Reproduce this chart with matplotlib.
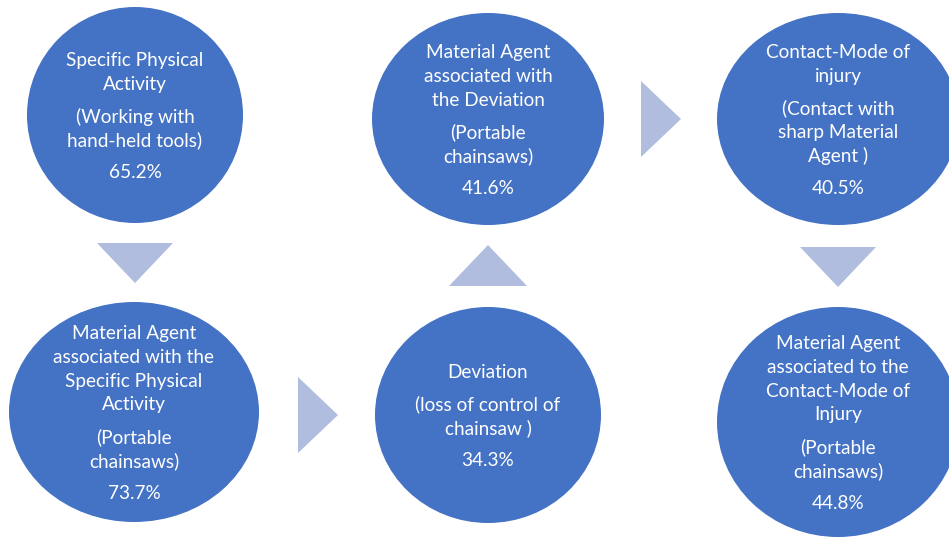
import matplotlib
matplotlib.use("Agg")
import matplotlib.pyplot as plt
from matplotlib.patches import Ellipse, Polygon

# ---- data ----
titles = [
    ["Specific Physical", "Activity"],
    ["Material Agent", "associated with the", "Specific Physical", "Activity"],
    ["Deviation"],
    ["Material Agent", "associated with", "the Deviation"],
    ["Contact-Mode of", "injury"],
    ["Material Agent", "associated to the", "Contact-Mode of", "Injury"],
]
details = [
    ["(Working with", "hand-held tools)"],
    ["(Portable", "chainsaws)"],
    ["(loss of control of", "chainsaw )"],
    ["(Portable", "chainsaws)"],
    ["(Contact with", "sharp Material", "Agent )"],
    ["(Portable", "chainsaws)"],
]
percentages = [65.2, 73.7, 34.3, 41.6, 40.5, 44.8]

# ---- layout (pixels, y downward) ----
centers = [(135, 115), (134, 412), (488, 415), (488, 119), (838, 119), (838, 422)]
radii = [(108, 108), (125, 110), (113, 108), (116, 106), (121, 106), (121, 115)]

# arrows: (center_x, center_y, direction)
arrows = [(135, 263, "down"), (318, 415, "right"), (488, 265, "up"),
          (661, 119, "right"), (838, 267, "down")]

CIRCLE = "#4472C4"
ARROW = "#B0BDDF"

W, H = 949, 539
fig = plt.figure(figsize=(W / 100, H / 100), dpi=100)
ax = fig.add_axes([0, 0, 1, 1])
ax.set_xlim(0, W)
ax.set_ylim(H, 0)
ax.axis("off")

for (cx, cy), (rx, ry) in zip(centers, radii):
    ax.add_patch(Ellipse((cx, cy), 2 * rx, 2 * ry, facecolor=CIRCLE, edgecolor="none"))

for cx, cy, d in arrows:
    if d == "down":
        pts = [(cx - 38, cy - 20), (cx + 38, cy - 20), (cx, cy + 20)]
    elif d == "up":
        pts = [(cx - 39, cy + 21), (cx + 39, cy + 21), (cx, cy - 20)]
    else:
        pts = [(cx - 20, cy - 38), (cx - 20, cy + 38), (cx + 20, cy)]
    ax.add_patch(Polygon(pts, closed=True, facecolor=ARROW, edgecolor="none"))

LINE = 23.7
GAP = 8.5
FS = 13.7
for (cx, cy), t, dt, p in zip(centers, titles, details, percentages):
    paras = [t, dt, [f"{p}%"]]
    n_lines = sum(len(q) for q in paras)
    total = (n_lines - 1) * LINE + (len(paras) - 1) * GAP
    y = cy - total / 2 + 1.5
    for pi, para in enumerate(paras):
        for line in para:
            ax.text(cx, y, line, ha="center", va="center", color="white",
                    fontsize=FS, family=["Lato", "DejaVu Sans"])
            y += LINE
        y += GAP

fig.savefig("out.png", dpi=100)
